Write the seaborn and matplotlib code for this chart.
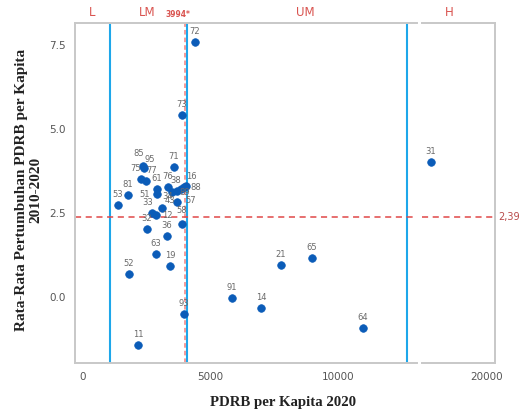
import matplotlib
matplotlib.use("Agg")
import matplotlib.pyplot as plt
import seaborn as sns
import pandas as pd
import numpy as np

# Region codes, GRDP per capita 2020 and average growth 2010-2020
codes = ["72", "73", "71", "85", "95", "75", "77", "61", "51", "76", "34", "38",
         "89", "16", "88", "57", "43", "33", "12", "32", "36", "58", "81", "53",
         "63", "19", "52", "93", "11", "91", "14", "21", "65", "64", "31"]
pdrb = [4392, 3882, 3569, 2353, 2392, 2275, 2471, 2902, 2902, 3333, 3490, 3686,
        3843, 3961, 4039, 3686, 3098, 2706, 2863, 2510, 3294, 3882, 1765, 1373,
        2863, 3412, 1804, 3961, 2157, 5843, 6980, 7765, 8980, 10980, 17800]
growth = [7.59, 5.42, 3.87, 3.90, 3.84, 3.51, 3.45, 3.21, 3.06, 3.27, 3.13, 3.15,
          3.21, 3.27, 3.30, 2.83, 2.65, 2.50, 2.44, 2.02, 1.82, 2.17, 3.04, 2.74,
          1.28, 0.92, 0.68, -0.51, -1.43, -0.03, -0.33, 0.95, 1.16, -0.92, 4.02]

# Income class thresholds and reference lines
thresholds = [1045, 4095, 12695]
pdrb_mean = 3994
growth_mean = 2.39
class_names = ["L", "LM", "UM", "H"]
class_pos = [353, 2510, 8706, 18510]
left_ticks = [0, 5000, 10000]
right_ticks = [20000]
left_range = (-314, 13098)
right_range = (17451, 20314)
y_range = (-1.96, 8.16)

# label nudges (points) inside the crowded cluster
nudge = {"95": (4, -2), "85": (-3, 1), "75": (-4, 0), "77": (4, 0),
         "51": (-9, -8), "34": (-3, -11), "38": (-1, 0), "89": (3, -10),
         "16": (5, 0), "88": (7, -9), "12": (8, -8), "43": (6, -2.5),
         "57": (10, -7), "58": (0, 2), "33": (-3, 0)}

df = pd.DataFrame({"code": codes, "pdrb": pdrb, "growth": growth})

sns.set_style("white")
plt.rcParams["font.family"] = ["DejaVu Sans"]

fig = plt.figure(figsize=(5.19, 4.11), dpi=100)
ax1 = fig.add_axes([75 / 519, 48 / 411, 342 / 519, 340.3 / 411])
ax2 = fig.add_axes([422 / 519, 48 / 411, 73 / 519, 340.3 / 411], sharey=ax1)

border = "#c8c8c8"
blue_line = "#1ea7ea"
red = "#d9534f"
pt_color = "#0b5cb8"

for ax, rng, ticks in [(ax1, left_range, left_ticks), (ax2, right_range, right_ticks)]:
    ax.set_xlim(*rng)
    ax.set_ylim(*y_range)
    for t in thresholds:
        ax.axvline(t, color=blue_line, lw=1.5, zorder=2)
    ax.axvline(pdrb_mean, color="#f08080", lw=1.1, ls=(0, (3, 2)), zorder=2)
    ax.axhline(growth_mean, color="#e04848", lw=1.1, ls=(0, (4, 3)), zorder=2)
    sub = df[(df["pdrb"] >= rng[0]) & (df["pdrb"] <= rng[1])]
    sns.scatterplot(data=sub, x="pdrb", y="growth", ax=ax, color=pt_color,
                    s=30, edgecolor=pt_color, linewidth=0.5, zorder=4, legend=False)
    for _, r in sub.iterrows():
        dx, dy = nudge.get(r["code"], (0, 0))
        ax.annotate(r["code"], (r["pdrb"], r["growth"]), xytext=(dx, 4.5 + dy),
                    textcoords="offset points", ha="center", va="bottom",
                    fontsize=6, color="#6a6a6a", zorder=5)
    ax.set_xticks(ticks)
    ax.set_xticklabels([str(t) for t in ticks])
    ax.tick_params(axis="both", colors="#9a9a9a", labelcolor="#555555",
                   labelsize=7.5, length=3, width=0.8)
    ax.set_xlabel("")
    ax.set_ylabel("")
    for sp in ax.spines.values():
        sp.set_color(border)
        sp.set_linewidth(1.4)

ax1.spines["right"].set_visible(False)
ax2.spines["left"].set_visible(False)
ax2.tick_params(axis="y", left=False, labelleft=False)
ax1.set_yticks([0.0, 2.5, 5.0, 7.5])
ax1.set_yticklabels(["0.0", "2.5", "5.0", "7.5"])

# class labels above the panel
for name, xpos in zip(class_names, class_pos):
    ax = ax2 if xpos > left_range[1] else ax1
    ax.text(xpos, 1.01, name, transform=ax.get_xaxis_transform(), ha="center",
            va="bottom", fontsize=8.5, color=red)
ax1.text(3725, 1.01, f"{pdrb_mean}*", transform=ax1.get_xaxis_transform(),
         ha="center", va="bottom", fontsize=5.5, color=red, fontweight="bold")

# mean growth value at right edge
ax2.text(1.04, growth_mean, "2,39", transform=ax2.get_yaxis_transform(),
         ha="left", va="center", fontsize=7, color="#b84a4a")

serif = ["Liberation Serif", "DejaVu Serif"]
fig.text(283 / 519, 1 - 402 / 411, "PDRB per Kapita 2020", ha="center",
         va="center", fontsize=10.7, fontweight="bold", family=serif, color="#222222")
fig.text(29 / 519, 1 - 190 / 411,
         "Rata-Rata Pertumbuhan PDRB per Kapita\n2010-2020",
         ha="center", va="center", rotation=90, fontsize=11, fontweight="bold",
         family=serif, color="#222222", linespacing=1.1)

fig.savefig("out.png", dpi=100)
